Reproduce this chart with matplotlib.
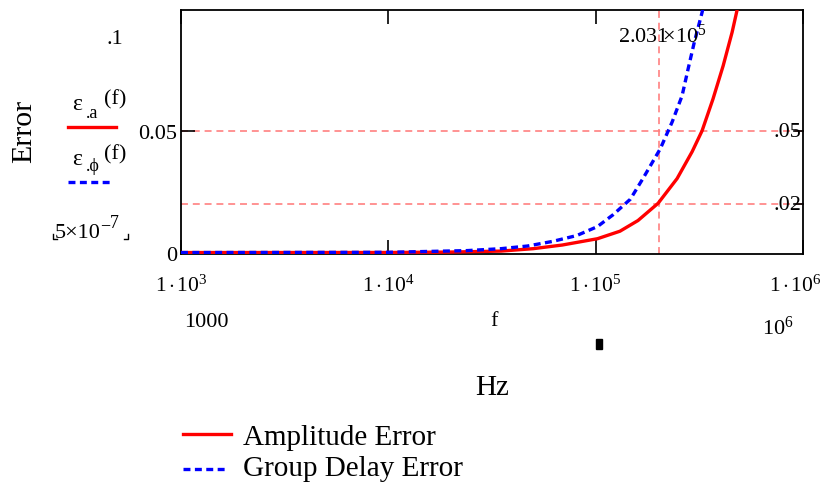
import matplotlib
matplotlib.use("Agg")
import matplotlib.pyplot as plt
import matplotlib.transforms as mtransforms
from matplotlib.lines import Line2D
from matplotlib.patches import Rectangle

plt.rcParams['font.family'] = ['Liberation Serif', 'DejaVu Serif']
plt.rcParams['mathtext.fontset'] = 'custom'
plt.rcParams['mathtext.rm'] = 'Liberation Serif'
plt.rcParams['mathtext.it'] = 'Liberation Serif:italic'
plt.rcParams['mathtext.bf'] = 'Liberation Serif:bold'
plt.rcParams['lines.scale_dashes'] = False

# ---- data ----
f_amp = [1e3, 1e4, 2e4, 3.5e4, 5e4, 6.9e4, 1.02e5, 1.31e5, 1.6e5, 2.0e5,
         2.47e5, 2.92e5, 3.26e5, 3.68e5, 4.12e5, 4.55e5, 4.81e5, 5.0e5]
amp_err = [0.0, 0.00003, 0.0002, 0.0006, 0.0016, 0.0031, 0.0057, 0.0088, 0.0132, 0.0203,
           0.0305, 0.0416, 0.0502, 0.0633, 0.077, 0.0908, 0.1, 0.107]

f_gd = [1e3, 1e4, 2.4e4, 3.5e4, 4.7e4, 6.2e4, 8.1e4, 1.02e5, 1.21e5, 1.47e5,
        1.69e5, 2.05e5, 2.34e5, 2.61e5, 2.79e5, 2.99e5, 3.26e5, 3.4e5]
gd_err = [0.0, 0.0001, 0.0008, 0.0016, 0.0027, 0.0046, 0.007, 0.0107, 0.0155, 0.022,
          0.0305, 0.0428, 0.0539, 0.0646, 0.0756, 0.0867, 0.099, 0.107]

marker_f = 2.031e5
h_marks = [0.05, 0.02]
h_labels = ['.05', '.02']
x_ticks = [1e3, 1e4, 1e5, 1e6]
x_ticklabels = [r'$1\,{\cdot}\,10^{3}$', r'$1\,{\cdot}\,10^{4}$',
                r'$1\,{\cdot}\,10^{5}$', r'$1\,{\cdot}\,10^{6}$']
y_ticks = [0, 0.05]
y_ticklabels = ['0', '0.05']
legend_labels = ['Amplitude Error', 'Group Delay Error']

W, H = 828, 489
fig = plt.figure(figsize=(W / 100, H / 100), dpi=100)

def fx(x):
    return x / W

def fy(y):
    return 1 - y / H

RED = '#ff0000'
BLUE = '#0000ff'
BLUE_DASH = (5.0, 3.2)

L, R, T, B = 181, 803, 11, 255
ax = fig.add_axes([fx(L), fy(B), (R - L) / W, (B - T) / H])
ax.set_xscale('log')
ax.set_xlim(1e3, 1e6)
ax.set_ylim(-0.0006, 0.1)

grid_c = '#ff8080'
for v in h_marks:
    ax.axhline(v, color=grid_c, lw=1.2, dashes=(5.0, 3.5), zorder=1)
ax.axvline(marker_f, color=grid_c, lw=1.2, dashes=(5.0, 3.5), zorder=1)

ax.plot(f_amp, amp_err, color=RED, lw=2.4, zorder=3)
ax.plot(f_gd, gd_err, color=BLUE, lw=2.4, dashes=BLUE_DASH, zorder=4)

ax.set_xticks(x_ticks)
ax.set_xticklabels(x_ticklabels, fontsize=15.5)
ax.xaxis.set_minor_locator(matplotlib.ticker.NullLocator())
ax.tick_params(axis='x', which='major', direction='in', length=10, width=1.2,
               top=True, pad=15)
# keep the last tick label inside the canvas
lbls = ax.get_xticklabels()
lbls[-1].set_transform(lbls[-1].get_transform() +
                       mtransforms.ScaledTranslation(-8 / 100, 0, fig.dpi_scale_trans))
ax.set_yticks(y_ticks)
ax.set_yticklabels(y_ticklabels, fontsize=16)
ax.tick_params(axis='y', which='major', direction='in', length=10, width=1.2,
               pad=3, right=False)
for s in ax.spines.values():
    s.set_linewidth(1.3)
    s.set_color('black')

# right-side labels for dashed lines
for v, lab in zip(h_marks, h_labels):
    ax.text(0.9975, v, lab, transform=ax.get_yaxis_transform(), ha='right',
            va='center', fontsize=16)
    ax.plot([0.985, 1.0], [v, v], transform=ax.get_yaxis_transform(),
            color='black', lw=1.2, clip_on=False, zorder=5)

# marker value label (one text, glyphs squeezed as in the original)
fig.text(fx(618), fy(43), r'$2.031\!\!{\times}10^{5}$', ha='left', va='baseline',
         fontsize=16)

# left annotations
fig.text(fx(24), fy(131), 'Error', rotation=90, ha='center', va='center', fontsize=21.5)
fig.text(fx(115), fy(44), '.1', ha='center', va='baseline', fontsize=16)

fig.text(fx(72), fy(110), 'ε', ha='left', va='baseline', fontsize=17)
fig.text(fx(86), fy(118), '.a', ha='left', va='baseline', fontsize=13)
fig.text(fx(104), fy(104), '(f)', ha='left', va='baseline', fontsize=16)
fig.add_artist(Line2D([fx(68), fx(116)], [fy(128), fy(128)], color=RED, lw=2.4))

fig.text(fx(72), fy(165), 'ε', ha='left', va='baseline', fontsize=17)
fig.text(fx(86), fy(171), '.ϕ', ha='left', va='baseline', fontsize=13)
fig.text(fx(104), fy(159), '(f)', ha='left', va='baseline', fontsize=16)
fig.add_artist(Line2D([fx(68), fx(112)], [fy(183), fy(183)], color=BLUE, lw=2.4,
                      dashes=BLUE_DASH))

fig.text(fx(55), fy(238), r'5×10', ha='left', va='baseline', fontsize=16)
fig.text(fx(100), fy(230), r'−', ha='left', va='baseline', fontsize=13)
fig.text(fx(110), fy(228), r'7', ha='left', va='baseline', fontsize=13)
fig.add_artist(Line2D([fx(53), fx(53), fx(57)], [fy(235), fy(240), fy(240)],
                      color='black', lw=1))
fig.add_artist(Line2D([fx(124), fx(128), fx(128)], [fy(240), fy(240), fy(235)],
                      color='black', lw=1))

# below x axis
fig.text(fx(206), fy(327), '1000', ha='center', va='baseline', fontsize=16)
fig.text(fx(494), fy(326), 'f', ha='center', va='baseline', fontsize=16)
fig.text(fx(762), fy(335), r'$10^{6}$', ha='left', va='baseline', fontsize=16)
fig.add_artist(Rectangle((fx(596), fy(350)), 6 / W, 10 / H, color='black'))
fig.text(fx(492), fy(395), 'Hz', ha='center', va='baseline', fontsize=21)

# legend
fig.add_artist(Line2D([fx(183), fx(231)], [fy(435), fy(435)], color=RED, lw=2.4))
fig.text(fx(243), fy(445), legend_labels[0], ha='left', va='baseline', fontsize=21)
fig.add_artist(Line2D([fx(183), fx(228)], [fy(470), fy(470)], color=BLUE, lw=2.4,
                      dashes=BLUE_DASH))
fig.text(fx(243), fy(476), legend_labels[1], ha='left', va='baseline', fontsize=21)

fig.savefig('out.png', dpi=100)
